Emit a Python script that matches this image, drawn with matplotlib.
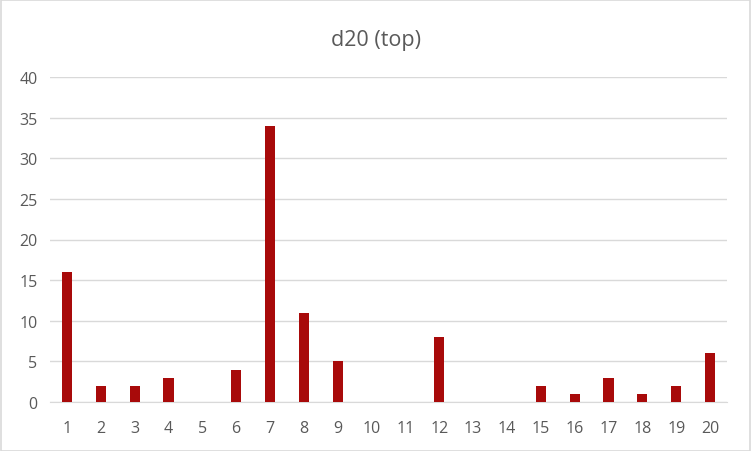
import matplotlib.pyplot as plt
from matplotlib.patches import Rectangle

faces = [str(i) for i in range(1, 21)]
counts = [16, 2, 2, 3, 0, 4, 34, 11, 5, 0, 0, 8, 0, 0, 2, 1, 3, 1, 2, 6]
title = "d20 (top)"

plt.rcParams['font.family'] = ['Open Sans', 'DejaVu Sans']

fig = plt.figure(figsize=(7.52, 4.52), dpi=100)
ax = fig.add_axes([50 / 752, 49 / 452, 677 / 752, 325 / 452])

x = range(len(faces))
ax.bar(x, counts, width=0.3, color='#A80A0A', zorder=3)

ax.set_xlim(-0.5, len(faces) - 0.5)
ax.set_ylim(0, 40)
ax.set_yticks(range(0, 41, 5))
ax.set_xticks(list(x))
ax.set_xticklabels(faces)
ax.yaxis.grid(True, color='#D9D9D9', linewidth=1, zorder=0)
for s in ['top', 'right', 'left']:
    ax.spines[s].set_visible(False)
ax.spines['bottom'].set_color('#D9D9D9')
ax.tick_params(length=0, labelsize=11.5, colors='#595959', pad=13)
ax.tick_params(axis='y', pad=9)

fig.text(0.5, 0.91, title, ha='center', va='center', fontsize=15.5, color='#595959')
fig.patches.append(Rectangle((0.001, 0.001), 0.997, 0.996, transform=fig.transFigure,
                             fill=False, edgecolor='#D9D9D9', linewidth=1.2))

fig.savefig('out.png', dpi=100)
